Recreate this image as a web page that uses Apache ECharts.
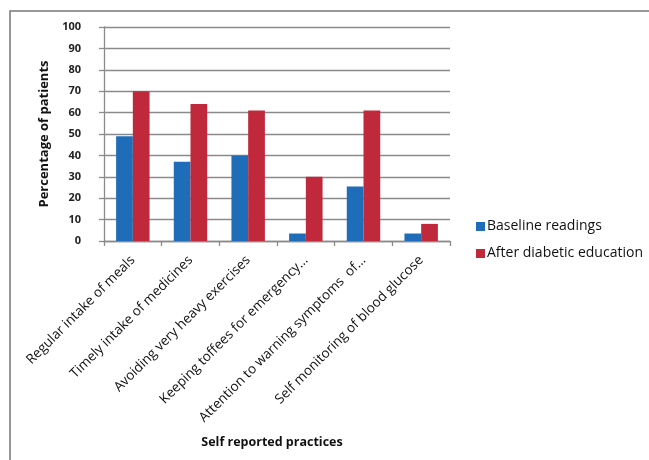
<!DOCTYPE html>
<html>
<head>
<meta charset="utf-8">
<script src="https://cdn.jsdelivr.net/npm/echarts@6/dist/echarts.min.js"></script>
<style>html,body{margin:0;padding:0;background:#fff;}#c{width:649px;height:460px;}</style>
</head>
<body>
<div id="c"></div>
<script>
const categories = [
  "Regular intake of meals",
  "Timely intake of medicines",
  "Avoiding very heavy exercises",
  "Keeping toffees for emergency...",
  "Attention to warning symptoms  of...",
  "Self monitoring of blood glucose"
];
const baseline = [49, 37, 40, 3.5, 25.5, 3.5];
const afterEducation = [70, 64, 61, 30, 61, 8];
const seriesNames = ["Baseline readings", "After diabetic education"];
const yTicks = [0, 100, 10];

const font = "'Open Sans', 'DejaVu Sans', sans-serif";
const chart = echarts.init(document.getElementById('c'), null, {renderer: 'canvas'});
chart.setOption({
  animation: false,
  backgroundColor: '#ffffff',
  textStyle: {fontFamily: font},
  grid: {left: 104, top: 27, width: 346, height: 214, containLabel: false},
  legend: {
    orient: 'vertical',
    left: 471, top: 213,
    itemWidth: 9, itemHeight: 9, itemGap: 10,
    icon: 'rect',
    data: seriesNames,
    textStyle: {fontFamily: font, fontSize: 14, color: '#111', padding: [0,0,0,-3], lineHeight: 17}
  },
  xAxis: {
    type: 'category',
    data: categories,
    name: 'Self reported practices',
    nameLocation: 'middle',
    nameGap: 195,
    nameTextStyle: {fontFamily: font, fontSize: 12.5, fontWeight: 'bold', color: '#111', padding: [0, 10, 0, 0]},
    axisLine: {lineStyle: {color: '#8a8a8a', width: 1.3}},
    axisTick: {show: true, length: 5, lineStyle: {color: '#8a8a8a', width: 1.3}},
    axisLabel: {rotate: 45, interval: 0, fontFamily: font, fontSize: 13.5, color: '#111', margin: 17}
  },
  yAxis: {
    type: 'value',
    min: yTicks[0], max: yTicks[1], interval: yTicks[2],
    name: 'Percentage of patients',
    nameLocation: 'middle',
    nameGap: 47,
    nameTextStyle: {fontFamily: font, fontSize: 13, fontWeight: 'bold', color: '#111'},
    axisLine: {show: true, lineStyle: {color: '#8a8a8a', width: 1.3}},
    axisTick: {show: true, length: 5, lineStyle: {color: '#8a8a8a', width: 1.3}},
    axisLabel: {fontFamily: font, fontSize: 11, fontWeight: 'bold', color: '#222', margin: 23},
    splitLine: {show: true, lineStyle: {color: '#8a8a8a', width: 1.3}}
  },
  series: [
    {name: seriesNames[0], type: 'bar', data: baseline, barGap: '0%', barCategoryGap: '42%', itemStyle: {color: '#1f6db9'}},
    {name: seriesNames[1], type: 'bar', data: afterEducation, itemStyle: {color: '#c0283c'}}
  ],
  graphic: [
    {type: 'polyline', shape: {points: [[10, 460], [10, 11], [649, 11]]}, style: {stroke: '#777', lineWidth: 1.5, fill: null}, silent: true}
  ]
});
</script>
</body>
</html>
